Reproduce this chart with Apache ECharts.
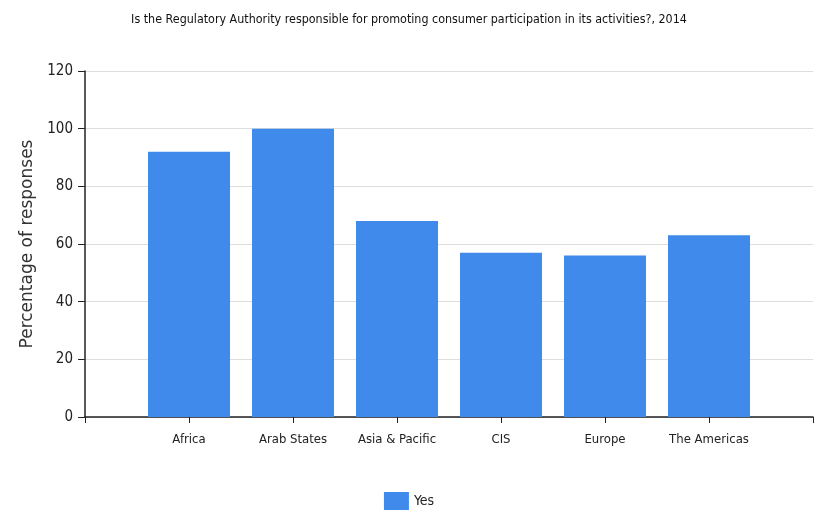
<!DOCTYPE html>
<html>
<head>
<meta charset="utf-8">
<script src="https://cdn.jsdelivr.net/npm/echarts@6/dist/echarts.min.js"></script>
<style>
  html, body { margin: 0; padding: 0; background: #ffffff; }
  #chart { width: 818px; height: 513px; }
</style>
</head>
<body>
<div id="chart"></div>
<script>
// Regions surveyed and share answering "Yes"
const categories = ['Africa', 'Arab States', 'Asia & Pacific', 'CIS', 'Europe', 'The Americas'];
const yesValues = [92, 100, 68, 57, 56, 63];
const seriesName = 'Yes';
const titleText = 'Is the Regulatory Authority responsible for promoting consumer participation in its activities?, 2014';
const yAxisName = 'Percentage of responses';

// Pad the category axis with empty slots at both ends so the bars sit inside the frame
const axisData = [''].concat(categories, ['']);
const seriesData = [null].concat(yesValues, [null]);

const narrow = '"DejaVu Sans Condensed", "Liberation Sans Narrow", sans-serif';

const chart = echarts.init(document.getElementById('chart'), null, { renderer: 'canvas' });
chart.setOption({
  animation: false,
  backgroundColor: '#ffffff',
  title: {
    text: titleText,
    left: 'center',
    top: 9,
    textStyle: { fontFamily: narrow, fontSize: 12.4, fontWeight: 'normal', color: '#111111' }
  },
  legend: {
    data: [seriesName],
    bottom: -2,
    left: 'center',
    icon: 'rect',
    itemWidth: 25,
    itemHeight: 18,
    itemGap: 6,
    textStyle: { fontFamily: narrow, fontSize: 14, color: '#222222' }
  },
  grid: { left: 85, right: 5, top: 71, bottom: 96, containLabel: false },
  xAxis: {
    type: 'category',
    data: axisData,
    boundaryGap: false,
    axisLine: { lineStyle: { color: '#222222', width: 1.5 } },
    axisTick: { show: true, length: 6, lineStyle: { color: '#222222' } },
    axisLabel: { interval: 0, margin: 16, fontFamily: narrow, fontSize: 13, color: '#222222' },
    splitLine: { show: false }
  },
  yAxis: {
    type: 'value',
    min: 0,
    max: 120,
    interval: 20,
    name: yAxisName,
    nameLocation: 'middle',
    nameGap: 46,
    nameTextStyle: { fontFamily: '"DejaVu Sans", sans-serif', fontSize: 17, color: '#333333' },
    axisLine: { show: true, lineStyle: { color: '#222222', width: 1.5 } },
    axisTick: { show: true, length: 7, lineStyle: { color: '#222222' } },
    axisLabel: { margin: 12, fontFamily: narrow, fontSize: 15, color: '#222222' },
    splitLine: { show: true, lineStyle: { color: '#dddddd', width: 1 } }
  },
  series: [{
    name: seriesName,
    type: 'bar',
    data: seriesData,
    barWidth: 82,
    itemStyle: { color: '#3f8aea' }
  }]
});
</script>
</body>
</html>
